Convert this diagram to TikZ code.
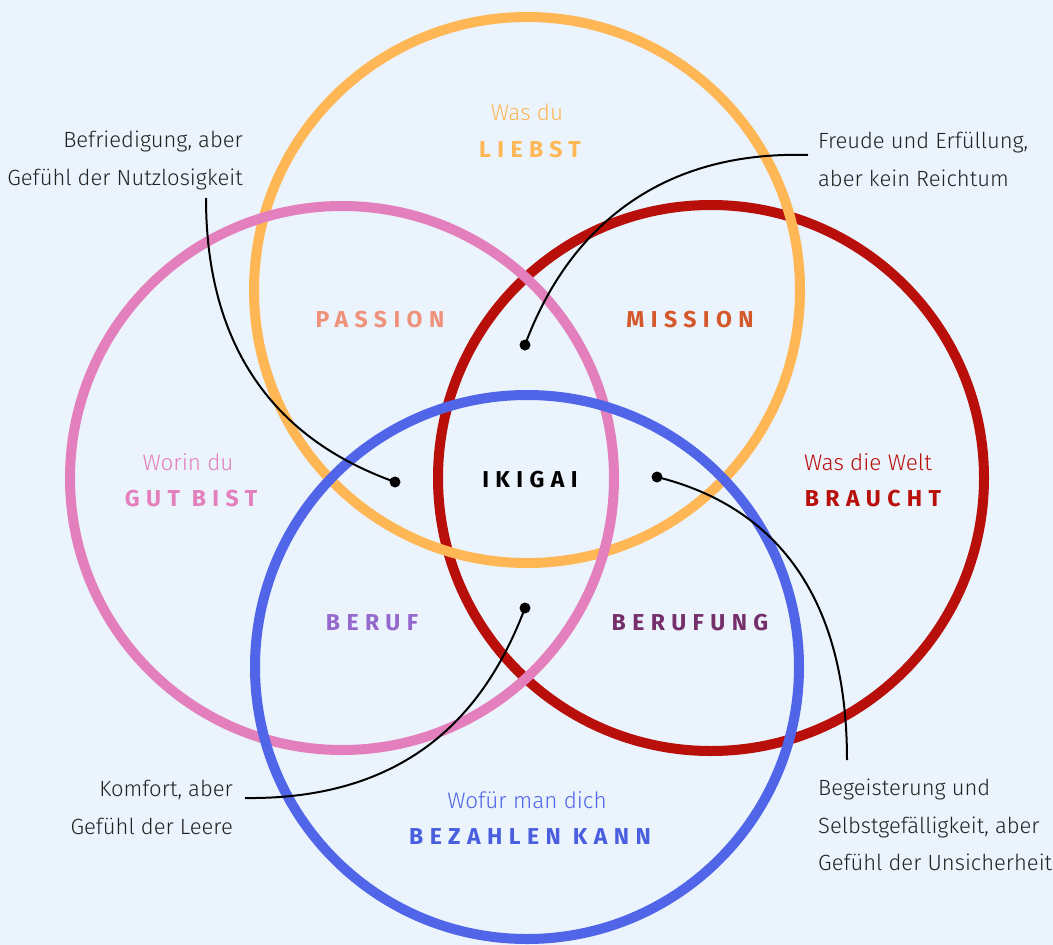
\documentclass[tikz,border=0pt]{standalone}
\usepackage{fontspec}
\setmainfont{Fira Sans Light}[BoldFont=Fira Sans SemiBold]
\newfontfamily\capsfont{Fira Sans Bold}[LetterSpace=28]
\definecolor{bg}{HTML}{EBF3FC}
\definecolor{corange}{HTML}{FFB655}
\definecolor{cpink}{HTML}{E27FBC}
\definecolor{cred}{HTML}{B80F0A}
\definecolor{cblue}{HTML}{5065E8}
\definecolor{tpassion}{HTML}{EF917B}
\definecolor{tmission}{HTML}{D5582B}
\definecolor{tberuf}{HTML}{9468CC}
\definecolor{tberufung}{HTML}{742E6A}
\definecolor{tblue}{HTML}{4A5FE0}
\definecolor{ttext}{HTML}{222222}
\tikzset{
  ring/.style={line width=10pt},
  sublabel/.style={font=\fontsize{22.5}{24}\selectfont, inner sep=0pt},
  caplabel/.style={font=\capsfont\fontsize{23}{24}\selectfont, inner sep=0pt},
  note/.style={font=\fontsize{22}{37.5}\selectfont, text=ttext, inner sep=0pt},
  leader/.style={line width=2pt, black},
  dotmark/.style={circle, fill=black, inner sep=0pt, minimum size=11pt}
}
\begin{document}
\begin{tikzpicture}[x=1pt,y=-1pt]
\fill[bg] (0,0) rectangle (1053,945);
\useasboundingbox (0,0) rectangle (1053,945);
% circles
\draw[ring, cred] (711,478) circle (273);
\draw[ring, corange] (527,290) circle (273);
\draw[ring, cpink] (342,478) circle (272);
\draw[ring, cblue] (527,667) circle (272);
% circle labels
\node[sublabel, text=corange] (wasdu) at (527,112) {Was du};
\node[caplabel, text=corange] (liebst) at (530,150) {LIEBST};
\node[sublabel, text=cpink] (worin) at (188,462) {Worin du};
\node[caplabel, text=cpink] (gutbist) at (191,499) {GUT BIST};
\node[sublabel, text=cred] (welt) at (868,462) {Was die Welt};
\node[caplabel, text=cred] (braucht) at (873,499) {BRAUCHT};
\node[sublabel, text=cblue] (wofuer) at (527,800) {Wofür man dich};
\node[caplabel, text=tblue] (bezahlen) at (530,837) {BEZAHLEN KANN};
% overlaps
\node[caplabel, text=tpassion] (passion) at (380,320) {PASSION};
\node[caplabel, text=tmission] (mission) at (690,320) {MISSION};
\node[caplabel, text=tberuf] (beruf) at (372,623) {BERUF};
\node[caplabel, text=tberufung] (berufung) at (690,623) {BERUFUNG};
\node[caplabel, text=black] (ikigai) at (530,480) {IKIGAI};
% notes
\node[note, align=right, anchor=north east] (n1) at (243,131) {Befriedigung, aber\\Gefühl der Nutzlosigkeit};
\node[note, align=left, anchor=north west] (n2) at (818,132) {Freude und Erfüllung,\\aber kein Reichtum};
\node[note, align=right, anchor=north east] (n3) at (233,780) {Komfort, aber\\Gefühl der Leere};
\node[note, align=left, anchor=north west] (n4) at (818,779) {Begeisterung und\\Selbstgefälligkeit, aber\\Gefühl der Unsicherheit};
% leader end points and dots
\coordinate (s1) at (206,198);
\coordinate (s2) at (808,155);
\coordinate (s3) at (847,760);
\coordinate (s4) at (245,798);
\node[dotmark] (d1) at (395,482) {};
\node[dotmark] (d2) at (525,345) {};
\node[dotmark] (d3) at (657,477) {};
\node[dotmark] (d4) at (525,608) {};
\draw[leader] (s1) .. controls (206,390) and (320,455) .. (d1.center);
\draw[leader] (s2) .. controls (640,150) and (560,250) .. (d2.center);
\draw[leader] (d3.center) .. controls (770,505) and (847,590) .. (s3);
\draw[leader] (d4.center) .. controls (490,700) and (420,800) .. (s4);
\end{tikzpicture}
\end{document}
